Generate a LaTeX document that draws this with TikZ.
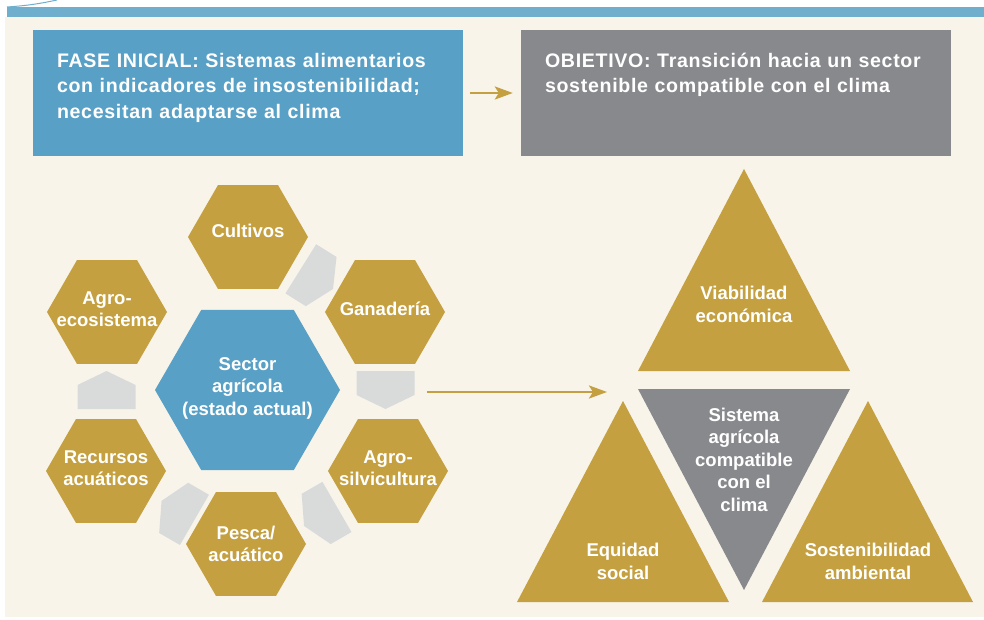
\documentclass[tikz,border=0pt]{standalone}
\usepackage{fontspec}
\setmainfont{Liberation Sans}
\newfontfamily\boxfont[LetterSpace=3.5]{Liberation Sans}
\usetikzlibrary{shapes.geometric, arrows.meta, calc, positioning}

\definecolor{cream}{HTML}{F8F4EA}
\definecolor{stripblue}{HTML}{6FAFCD}
\definecolor{fasblue}{HTML}{58A0C5}
\definecolor{objgray}{HTML}{88898D}
\definecolor{gold}{HTML}{C4A040}
\definecolor{pale}{HTML}{D9DBDB}

\tikzset{
    hexcell/.style={regular polygon, regular polygon sides=6, minimum size=120pt, fill=gold, inner sep=0pt},
    hextext/.style={text=white, font=\bfseries\fontsize{18.5}{22.5}\selectfont, align=center, yshift=3pt},
    tritext/.style={text=white, font=\bfseries\fontsize{18.5}{22.5}\selectfont, align=center},
    boxtext/.style={text=white, font=\boxfont\bfseries\fontsize{19.6}{25.7}\selectfont, align=left, text width=400pt, inner sep=0pt, anchor=base west},
    topbox/.style={minimum width=430pt, minimum height=126pt, inner sep=0pt},
    goldarrow/.style={draw=gold, line width=2.6pt, -{Stealth[length=18pt,width=13pt,inset=4pt]}},
}

\begin{document}
\begin{tikzpicture}[x=1pt, y=1pt]
    \useasboundingbox (0,0) rectangle (984,619);
    \fill[white] (0,0) rectangle (984,619);
    \fill[cream] (5,2) rectangle (984,602);
    \fill[stripblue] (7,602) rectangle (984,612);
    \draw[stripblue, line width=1pt] (7,612) to[bend right=4] (57,619);

    % fase inicial -> objetivo
    \node[topbox, fill=fasblue] (fase) at (248,526) {};
    \node[topbox, fill=objgray] (objetivo) at (736,526) {};
    \node[boxtext] (fase-txt) at ([shift={(24,-37.5)}]fase.north west) {FASE INICIAL: Sistemas alimentarios\\con indicadores de insostenibilidad;\\necesitan adaptarse al clima};
    \node[boxtext] (objetivo-txt) at ([shift={(24,-37.5)}]objetivo.north west) {OBIETIVO: Transición hacia un sector\\sostenible compatible con el clima};
    \draw[goldarrow, shorten <=7pt, shorten >=8pt] (fase) -- (objetivo);

    % hexagonos
    \node[hexcell, fill=fasblue, minimum size=185pt, label={[hextext, yshift=-1pt]center:{Sector\\agrícola\\(estado actual)}}] (sector) at (247.5,229) {};
    \node[hexcell, label={[hextext, yshift=3pt]center:Cultivos}] (cultivos) at (248,382) {};
    \node[hexcell, label={[hextext]center:Ganadería}] (ganaderia) at (385,307) {};
    \node[hexcell, label={[hextext]center:{Agro-\\silvicultura}}] (agrosilv) at (388,148) {};
    \node[hexcell, label={[hextext, yshift=-3pt]center:{Pesca/\\acuático}}] (pesca) at (246,75) {};
    \node[hexcell, label={[hextext]center:{Recursos\\acuáticos}}] (recursos) at (106,148) {};
    \node[hexcell, label={[hextext]center:{Agro-\\ecosistema}}] (agroeco) at (107,307) {};

    \foreach \ang/\r in {58/131, 0/138, -60/146, -120/139, 180/141}
        \fill[pale, shift={($(sector)+(\ang:\r)$)}, rotate=\ang-90]
            (-19,29) -- (5,29) -- (19,0) -- (5,-29) -- (-19,-29) -- cycle;

    \coordinate (cambio) at (427,227);
    \coordinate (meta) at (607,227);
    \draw[goldarrow] (cambio) -- (meta);

    % triangulos
    \fill[gold] (638,248) -- (744,450) -- (850,248) -- cycle;
    \fill[objgray] (638,230) -- (850,230) -- (744,29) -- cycle;
    \fill[gold] (517,17) -- (623,218) -- (729,17) -- cycle;
    \fill[gold] (762,17) -- (868,218) -- (973,17) -- cycle;
    \node[tritext] (viabilidad) at (744,314.5) {Viabilidad\\económica};
    \node[tritext] (sistema) at (744,159.5) {Sistema\\agrícola\\compatible\\con el\\clima};
    \node[tritext] (equidad) at (623,57.5) {Equidad\\social};
    \node[tritext] (sostenibilidad) at (868,57.5) {Sostenibilidad\\ambiental};
\end{tikzpicture}
\end{document}
